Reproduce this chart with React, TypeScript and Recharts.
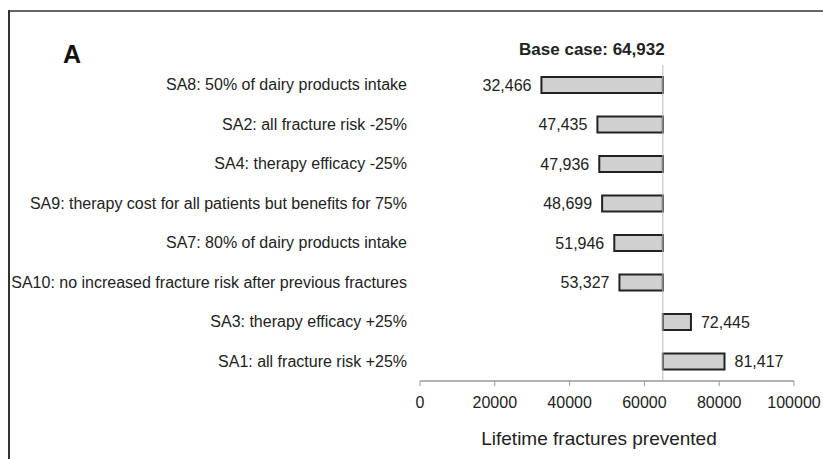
import { BarChart, Bar, XAxis, YAxis, ReferenceLine, LabelList } from 'recharts';

const scenarios = [
  'SA8: 50% of dairy products intake',
  'SA2: all fracture risk -25%',
  'SA4: therapy efficacy -25%',
  'SA9: therapy cost for all patients but benefits for 75%',
  'SA7: 80% of dairy products intake',
  'SA10: no increased fracture risk after previous fractures',
  'SA3: therapy efficacy +25%',
  'SA1: all fracture risk +25%',
];
const prevented = [32466, 47435, 47936, 48699, 51946, 53327, 72445, 81417];
const baseCase = 64932;
const xTicks = [0, 20000, 40000, 60000, 80000, 100000];

const data = scenarios.map((name, i) => ({
  name,
  value: prevented[i],
  range: prevented[i] < baseCase ? [prevented[i], baseCase] : [baseCase, prevented[i]],
}));

const font = '"Liberation Sans", Arial, sans-serif';
const fmt = (v: number) => v.toLocaleString('en-US');

function ValueLabel(props: any) {
  const { x, y, width, height, value } = props;
  const below = value < baseCase;
  return (
    <text
      x={below ? x - 10 : x + width + 10}
      y={y + height / 2}
      dy="0.36em"
      textAnchor={below ? 'end' : 'start'}
      fontSize={16}
      fill="#222"
      fontFamily={font}
    >
      {fmt(value)}
    </text>
  );
}

function XTick(props: any) {
  const { x, y, payload } = props;
  return (
    <text x={x} y={y} dy="0.75em" textAnchor="middle" fontSize={16} fill="#222" fontFamily={font}>
      {payload.value}
    </text>
  );
}

export default function App() {
  return (
    <div
      style={{
        position: 'fixed',
        left: 0,
        top: 0,
        width: 823,
        height: 459,
        overflow: 'hidden',
        background: '#fff',
        fontFamily: font,
      }}
    >
      <BarChart
        width={823}
        height={459}
        layout="vertical"
        data={data}
        margin={{ top: 65, right: 29, bottom: 0, left: 0 }}
        barCategoryGap={0}
      >
        <XAxis
          type="number"
          domain={[0, 100000]}
          ticks={xTicks}
          height={78}
          axisLine={{ stroke: '#999', strokeWidth: 1.5 }}
          tickLine={{ stroke: '#999' }}
          tickSize={5}
          tickMargin={10}
          tick={<XTick />}
          label={{
            value: 'Lifetime fractures prevented',
            position: 'insideBottom',
            offset: 14,
            dx: -8,
            fontSize: 19,
            fill: '#222',
            fontFamily: font,
          }}
        />
        <YAxis
          type="category"
          dataKey="name"
          width={420}
          axisLine={false}
          tickLine={false}
          tickSize={0}
          tickMargin={13}
          interval={0}
          tick={{ fontSize: 16, fill: '#222', fontFamily: font }}
        />
        <ReferenceLine
          x={baseCase}
          stroke="#bbb"
          strokeWidth={1}
          label={{
            value: 'Base case: 64,932',
            position: 'top',
            offset: 10,
            dx: -71,
            fontSize: 17,
            fontWeight: 'bold',
            fill: '#222',
            fontFamily: font,
          }}
        />
        <Bar
          dataKey="range"
          barSize={16}
          fill="#d0d0d0"
          stroke="#222"
          strokeWidth={2}
          isAnimationActive={false}
        >
          <LabelList dataKey="value" content={ValueLabel} />
        </Bar>
      </BarChart>
      <svg
        width={823}
        height={459}
        style={{ position: 'absolute', left: 0, top: 0, pointerEvents: 'none' }}
      >
        <line x1={8} y1={11} x2={823} y2={11} stroke="#666" strokeWidth={2} />
        <line x1={9} y1={10} x2={9} y2={459} stroke="#333" strokeWidth={2} />
        <text x={63} y={63} fontSize={25} fontWeight="bold" fill="#111" fontFamily={font}>
          A
        </text>
      </svg>
    </div>
  );
}
